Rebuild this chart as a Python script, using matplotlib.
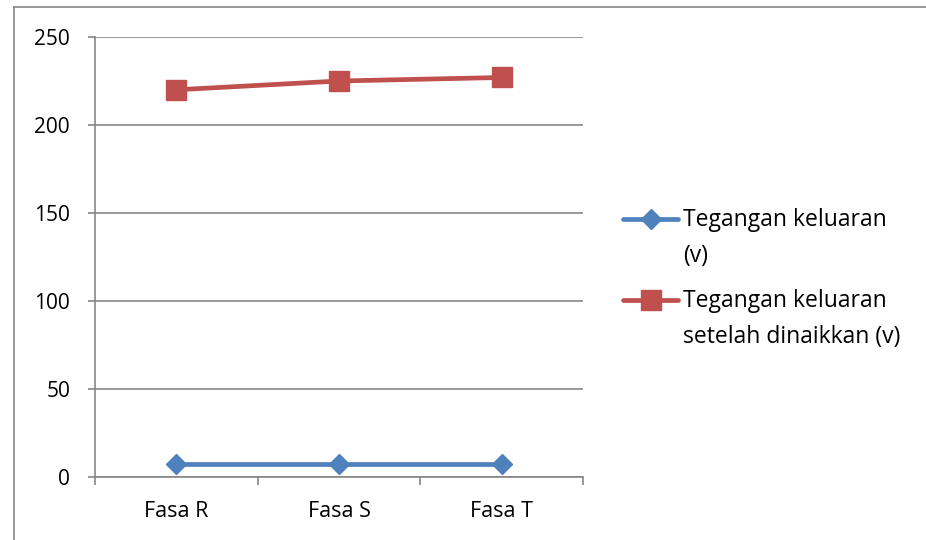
import matplotlib
matplotlib.use("Agg")
import matplotlib.pyplot as plt
from matplotlib.lines import Line2D

categories = ["Fasa R", "Fasa S", "Fasa T"]
tegangan_keluaran = [7.5, 7.5, 7.5]
tegangan_dinaikkan = [220, 225, 227]
series_labels = ["Tegangan keluaran\n(v)", "Tegangan keluaran\nsetelah dinaikkan (v)"]
y_ticks = [0, 50, 100, 150, 200, 250]

plt.rcParams['font.family'] = ['Open Sans', 'DejaVu Sans']

fig = plt.figure(figsize=(9.26, 5.4), dpi=100)
W, H = 926, 540
ax = fig.add_axes([95 / W, (H - 477) / H, (583 - 95) / W, (477 - 37) / H])

blue = "#4F81BD"
red = "#C0504D"
grid = "#868686"
LW = 3.4

x = list(range(len(categories)))
styles = [dict(color=blue, marker='D', ms=10), dict(color=red, marker='s', ms=14)]
for vals, st, lab in zip([tegangan_keluaran, tegangan_dinaikkan], styles, series_labels):
    ax.plot(x, vals, lw=LW, solid_capstyle='round', label=lab, zorder=3, **st)

ax.set_xlim(-0.5, len(categories) - 0.5)
ax.set_ylim(0, 250)
ax.set_yticks(y_ticks)
ax.set_yticklabels([str(v) for v in y_ticks], fontsize=15)
ax.set_xticks(x)
ax.set_xticklabels(categories, fontsize=15.5)
ax.tick_params(axis='x', length=0, pad=17)
ax.set_xticks([i - 0.5 for i in range(len(categories) + 1)], minor=True)
ax.tick_params(axis='x', which='minor', length=5.5, color=grid, width=1.2, direction='out')
ax.tick_params(axis='y', length=5, color=grid, width=1.2, pad=13, direction='out')

ax.yaxis.grid(True, color=grid, lw=1.2)
ax.set_axisbelow(True)
for s in ['top', 'right']:
    ax.spines[s].set_visible(False)
for s in ['left', 'bottom']:
    ax.spines[s].set_color(grid)
    ax.spines[s].set_linewidth(1.2)

# legend (handle aligned with first text line, like the original)
tr = fig.transFigure
entry_y = [219, 300]
for ey, st, lab in zip(entry_y, styles, series_labels):
    fy = 1 - ey / H
    fig.add_artist(Line2D([623 / W, 678 / W], [fy, fy], lw=LW, color=st['color'],
                          solid_capstyle='round', transform=tr))
    fig.add_artist(Line2D([650.5 / W], [fy], lw=0, transform=tr, **st))
    # baseline alignment refers to the last line of the block
    fig.text(683 / W, 1 - (ey + 8 + 35) / H, lab, fontsize=16.5, va='baseline', ha='left',
             linespacing=1.64, color='black')

# chart border (top and left visible)
fig.add_artist(Line2D([14 / W, 1.0], [1 - 7 / H, 1 - 7 / H], color=grid, lw=1.2, transform=tr))
fig.add_artist(Line2D([14 / W, 14 / W], [0, 1 - 7 / H], color=grid, lw=1.2, transform=tr))

fig.savefig("out.png", dpi=100, facecolor="white")
